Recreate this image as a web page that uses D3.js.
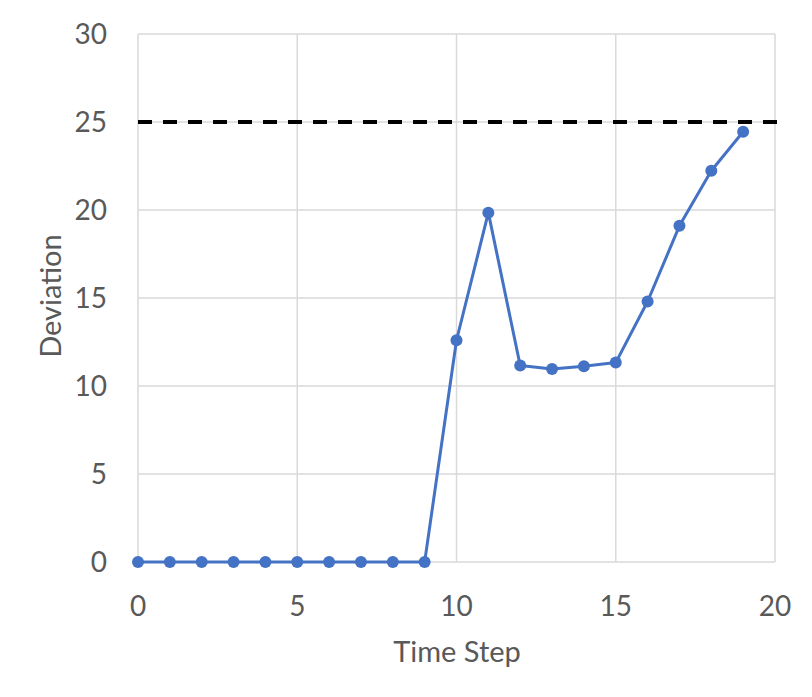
<!DOCTYPE html>
<html><head><meta charset="utf-8">
<script src="https://cdn.jsdelivr.net/npm/d3@7"></script>
<style>body{margin:0;background:#fff}</style>
</head><body>
<svg id="c" width="812" height="697"></svg>
<script>
const timeSteps = [0,1,2,3,4,5,6,7,8,9,10,11,12,13,14,15,16,17,18,19];
const deviation = [0,0,0,0,0,0,0,0,0,0,12.6,19.85,11.16,10.97,11.12,11.33,14.8,19.1,22.23,24.45];
const threshold = 25;
const xTicks = [0,5,10,15,20];
const yTicks = [0,5,10,15,20,25,30];

const svg = d3.select("#c");
const x = d3.scaleLinear().domain([0,20]).range([138,775]);
const y = d3.scaleLinear().domain([0,30]).range([562,34]);
const font = "Lato, 'Open Sans', sans-serif";
const txt = "#595959";

// grid
svg.append("g").selectAll("line").data(yTicks).join("line")
  .attr("x1", x(0)).attr("x2", x(20)).attr("y1", d=>y(d)).attr("y2", d=>y(d))
  .attr("stroke", "#d9d9d9").attr("stroke-width", 1.5);
svg.append("g").selectAll("line").data(xTicks).join("line")
  .attr("y1", y(0)).attr("y2", y(30)).attr("x1", d=>x(d)).attr("x2", d=>x(d))
  .attr("stroke", "#d9d9d9").attr("stroke-width", 1.5);

// tick labels
svg.append("g").selectAll("text").data(yTicks).join("text")
  .attr("x", 107).attr("y", d=>y(d)+10)
  .attr("text-anchor", "end").attr("font-family", font).attr("font-size", 28)
  .attr("fill", txt).text(d=>d);
svg.append("g").selectAll("text").data(xTicks).join("text")
  .attr("x", d=>x(d)).attr("y", 616)
  .attr("text-anchor", "middle").attr("font-family", font).attr("font-size", 28)
  .attr("fill", txt).text(d=>d);

// axis titles
svg.append("text").attr("x", 457).attr("y", 662).attr("text-anchor", "middle")
  .attr("font-family", font).attr("font-size", 29).attr("fill", txt).text("Time Step");
svg.append("text").attr("transform", "translate(61,296) rotate(-90)").attr("text-anchor", "middle")
  .attr("font-family", font).attr("font-size", 29).attr("fill", txt).text("Deviation");

// threshold dashed line
svg.append("line").attr("x1", x(0)).attr("x2", x(20)+6).attr("y1", y(threshold)).attr("y2", y(threshold))
  .attr("stroke", "#000").attr("stroke-width", 4).attr("stroke-dasharray", "14,11");

// series
const pts = timeSteps.map((t,i)=>[t, deviation[i]]);
svg.append("path").datum(pts)
  .attr("d", d3.line().x(d=>x(d[0])).y(d=>y(d[1])))
  .attr("fill", "none").attr("stroke", "#4472C4").attr("stroke-width", 3)
  .attr("stroke-linejoin", "round");
svg.append("g").selectAll("circle").data(pts).join("circle")
  .attr("cx", d=>x(d[0])).attr("cy", d=>y(d[1])).attr("r", 6).attr("fill", "#4472C4");
</script>
</body></html>
